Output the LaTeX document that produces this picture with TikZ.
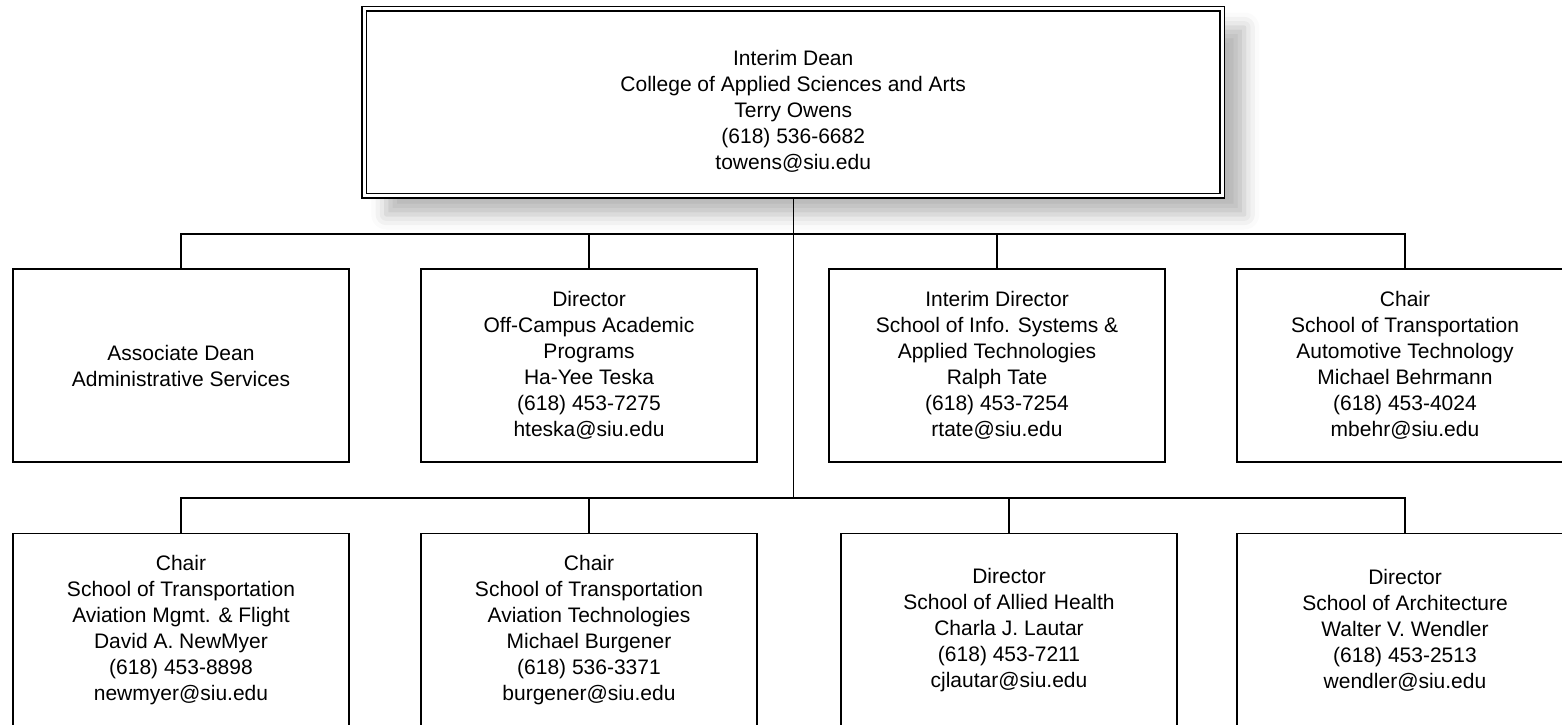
\documentclass[tikz,border=0pt]{standalone}
\usepackage{fontspec}
\setmainfont{Liberation Sans}
\usepackage{tikz}
\usetikzlibrary{shapes,arrows,positioning,shadows.blur}

\begin{document}
\begin{tikzpicture}[x=1pt, y=-1pt,
                   unit/.style={draw, line width=1.5pt, minimum width=336pt, minimum height=193pt,
                                align=center, font=\fontsize{21}{26}\selectfont},
                   dean/.style={draw, double, line width=1.6pt, double distance=2.8pt, fill=white,
                                minimum width=858pt, minimum height=187pt, outer sep=3pt,
                                blur shadow={shadow xshift=22pt, shadow yshift=-19pt,
                                             shadow blur radius=15pt, shadow opacity=28}},
                   wire/.style={line width=1.5pt}]
          \useasboundingbox (0,0) rectangle (1562,724);
          \node[dean] (dean) at (793.25,102) {};
          \node[align=center, font=\fontsize{21}{26}\selectfont] (deantext) at (793.25,111)
            {Interim Dean\\College of Applied Sciences and Arts\\Terry Owens\\(618) 536-6682\\towens@siu.edu};
          \node[unit] (assoc) at (181,365.5) {Associate Dean\\Administrative Services};
          \node[unit] (offcampus) at (589,365.5)
            {Director\\Off-Campus Academic\\Programs\\Ha-Yee Teska\\(618) 453-7275\\hteska@siu.edu};
          \node[unit] (infosys) at (997,365.5)
            {Interim Director\\School of Info. Systems \&\\Applied Technologies\\Ralph Tate\\(618) 453-7254\\rtate@siu.edu};
          \node[unit] (auto) at (1405,365.5)
            {Chair\\School of Transportation\\Automotive Technology\\Michael Behrmann\\(618) 453-4024\\mbehr@siu.edu};
          \node[unit] (aviation) at (181,630)
            {Chair\\School of Transportation\\Aviation Mgmt. \& Flight\\David A. NewMyer\\(618) 453-8898\\newmyer@siu.edu};
          \node[unit] (avtech) at (589,630)
            {Chair\\School of Transportation\\Aviation Technologies\\Michael Burgener\\(618) 536-3371\\burgener@siu.edu};
          \node[unit] (allied) at (1009,630)
            {Director\\School of Allied Health\\Charla J. Lautar\\(618) 453-7211\\cjlautar@siu.edu};
          \node[unit] (arch) at (1405,630)
            {Director\\School of Architecture\\Walter V. Wendler\\(618) 453-2513\\wendler@siu.edu};
          \coordinate (upbus) at (793.25,234);
          \coordinate (lowbus) at (793.25,498);
          \draw[wire] (dean.south) -- (lowbus);
          \draw[wire] (assoc.north) |- (upbus) -| (auto.north);
          \draw[wire] (aviation.north) |- (lowbus) -| (arch.north);
          \foreach \n in {offcampus,infosys}
            \draw[wire] (\n.north) -- (\n.north |- upbus);
          \foreach \n in {avtech,allied}
            \draw[wire] (\n.north) -- (\n.north |- lowbus);
        \end{tikzpicture}
\end{document}
